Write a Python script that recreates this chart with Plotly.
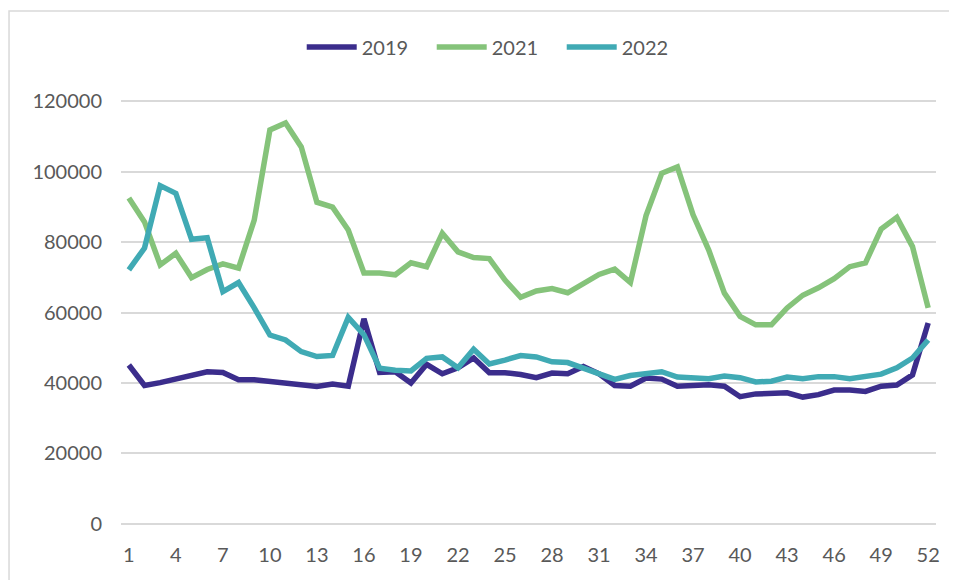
import plotly.graph_objects as go

weeks = list(range(1, 53))

sales_2019 = [
    45100, 39300, 40100, 41200, 42000, 43200, 43000, 40900, 40900, 40400,
    39700, 39200, 39000, 39700, 39100, 58200, 43000, 43200, 40000, 45300,
    42600, 44300, 47100, 42900, 42900, 42400, 41500, 42800, 42600, 44700,
    42600, 39300, 39100, 41400, 41100, 39100, 39300, 39500, 39100, 36100,
    36900, 36900, 37200, 36000, 36700, 38000, 38000, 37600, 39100, 39400,
    42300, 57000,
]
sales_2021 = [
    92500, 85700, 73500, 76800, 69900, 72200, 73800, 72600, 86200, 111800,
    113800, 107000, 91300, 89900, 83400, 71200, 71200, 70700, 74100, 73000,
    82500, 77200, 75600, 75300, 69200, 64300, 66100, 66800, 65600, 68300,
    70800, 72300, 68500, 87500, 99500, 101300, 87700, 77700, 65500, 58900,
    56500, 56500, 61300, 64900, 67000, 69600, 73000, 74100, 83700, 87000,
    78700, 61300,
]
sales_2022 = [
    72100, 78300, 96000, 93800, 80800, 81200, 65900, 68500, 61300, 53600,
    52200, 48900, 47500, 47800, 58600, 53700, 44200, 43600, 43400, 47000,
    47400, 44300, 49600, 45400, 46500, 47800, 47400, 46000, 45800, 44300,
    42800, 41000, 42100, 42800, 43200, 41700, 41400, 41200, 42000, 41500,
    40300, 40500, 41700, 41200, 41800, 41800, 41200, 41700, 42500, 44300,
    47100, 52200,
]

x_ticks = list(range(1, 53, 3))
y_ticks = list(range(0, 120001, 20000))

SERIES = [
    ("2019", sales_2019, "#3b2d8c"),
    ("2021", sales_2021, "#85c37a"),
    ("2022", sales_2022, "#40aab4"),
]

fig = go.Figure()
for name, values, color in SERIES:
    fig.add_trace(go.Scatter(
        x=weeks,
        y=values,
        mode="lines",
        name=name,
        line=dict(color=color, width=5.5),
    ))

FONT = dict(family="Lato, Open Sans, sans-serif", size=20, color="#595959")

# the page body has an 8px margin, so the figure is 8px smaller than the window
fig.update_layout(
    width=949,
    height=572,
    plot_bgcolor="white",
    paper_bgcolor="white",
    font=FONT,
    margin=dict(l=113, r=21, t=92, b=55),
    legend=dict(
        orientation="h",
        x=0.461,
        y=1.1247,
        xanchor="center",
        yanchor="middle",
        font=FONT,
        itemwidth=50,
        entrywidth=65,
    ),
    xaxis=dict(
        range=[0.5, 52.5],
        tickvals=x_ticks,
        showgrid=False,
        zeroline=False,
        showline=False,
        ticks="",
        ticklabelstandoff=16,
    ),
    yaxis=dict(
        range=[-300, 120300],
        tickvals=y_ticks,
        tickformat="d",
        showgrid=True,
        gridcolor="#d9d9d9",
        gridwidth=1.5,
        zeroline=False,
        showline=False,
        ticks="",
        ticklabelstandoff=18,
    ),
    shapes=[
        dict(
            type="rect",
            xref="paper",
            yref="paper",
            x0=-0.1374,
            x1=1.2,
            y0=-0.3,
            y1=1.2094,
            line=dict(color="#d9d9d9", width=1.5),
            fillcolor="rgba(0,0,0,0)",
            layer="below",
        )
    ],
)

fig.write_html("out.html")
